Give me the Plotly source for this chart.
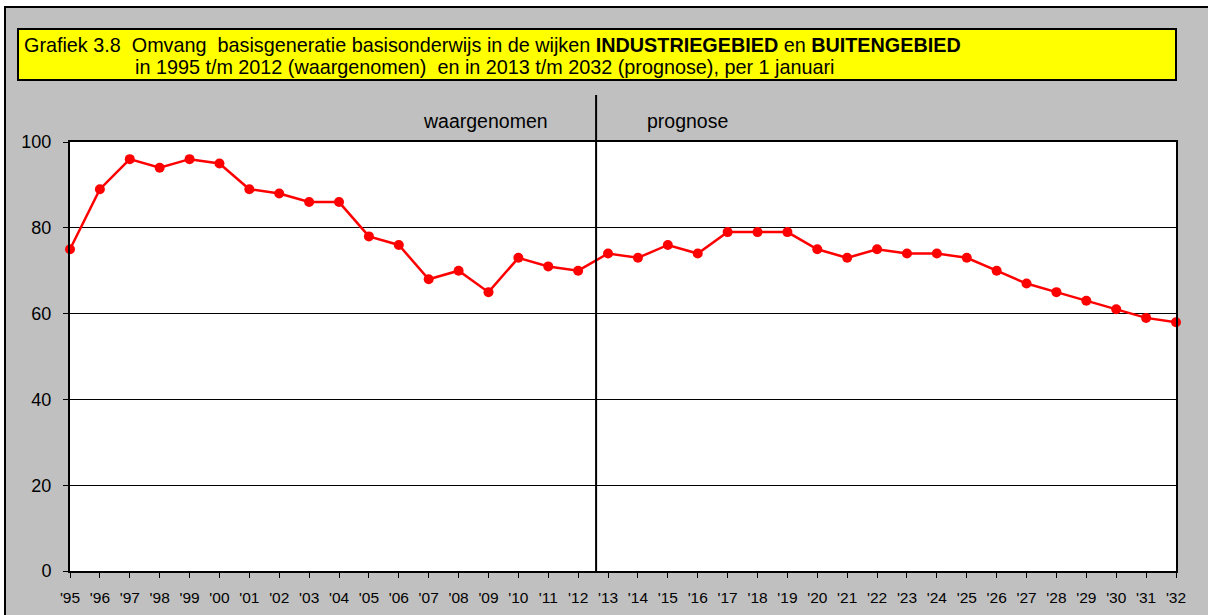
import plotly.graph_objects as go

years = ["'95", "'96", "'97", "'98", "'99", "'00", "'01", "'02", "'03", "'04",
         "'05", "'06", "'07", "'08", "'09", "'10", "'11", "'12",
         "'13", "'14", "'15", "'16", "'17", "'18", "'19", "'20", "'21", "'22",
         "'23", "'24", "'25", "'26", "'27", "'28", "'29", "'30", "'31", "'32"]
values = [75, 89, 96, 94, 96, 95, 89, 88, 86, 86,
          78, 76, 68, 70, 65, 73, 71, 70,
          74, 73, 76, 74, 79, 79, 79, 75, 73, 75,
          74, 74, 73, 70, 67, 65, 63, 61, 59, 58]
y_ticks = [0, 20, 40, 60, 80, 100]
split_label_left = "waargenomen"
split_label_right = "prognose"

FONT = "Arial, Liberation Sans, sans-serif"
W, H = 1208, 615
L, R, T, B = 70, 32, 142, 44
PW, PH = W - L - R, H - T - B

def px(x):
    return (x - L) / PW

def py(y):
    return (H - B - y) / PH

xs = list(range(len(years)))

fig = go.Figure()
fig.add_trace(go.Scatter(
    x=xs, y=values, mode="lines+markers",
    line=dict(color="#FF0000", width=2.5),
    marker=dict(color="#FF0000", size=10),
    showlegend=False, cliponaxis=False, hoverinfo="skip"))

shapes = [
    # outer gray frame
    dict(type="rect", xref="paper", yref="paper", layer="below",
         x0=px(5), x1=px(1220), y0=py(640), y1=py(7),
         fillcolor="#C0C0C0", line=dict(color="black", width=2)),
    # white plot area
    dict(type="rect", xref="paper", yref="paper", layer="below",
         x0=0, x1=1, y0=0, y1=1, fillcolor="white", line=dict(width=0)),
    # title box
    dict(type="rect", xref="paper", yref="paper", layer="above",
         x0=px(18), x1=px(1176), y0=py(80), y1=py(29),
         fillcolor="#FFFF00", line=dict(color="black", width=2)),
    # separator line
    dict(type="line", xref="x", yref="paper", layer="above",
         x0=17.6, x1=17.6, y0=0, y1=py(95),
         line=dict(color="black", width=2)),
]

nb = "\u00a0"
annotations = [
    dict(xref="paper", yref="paper", x=px(22), y=py(45), xanchor="left", yanchor="middle",
         showarrow=False, font=dict(family=FONT, size=19.8, color="black"),
         text="Grafiek 3.8" + nb * 2 + "Omvang" + nb + " basisgeneratie basisonderwijs in de wijken "
              "<b>INDUSTRIEGEBIED</b> en <b>BUITENGEBIED</b>"),
    dict(xref="paper", yref="paper", x=px(133), y=py(67), xanchor="left", yanchor="middle",
         showarrow=False, font=dict(family=FONT, size=19.8, color="black"),
         text="in 1995 t/m 2012 (waargenomen)" + nb + " en in 2013 t/m 2032 (prognose), per 1 januari"),
    dict(xref="paper", yref="paper", x=px(485), y=py(121), xanchor="center", yanchor="middle",
         showarrow=False, font=dict(family=FONT, size=19.5, color="black"),
         text=split_label_left),
    dict(xref="paper", yref="paper", x=px(687), y=py(121), xanchor="center", yanchor="middle",
         showarrow=False, font=dict(family=FONT, size=19.5, color="black"),
         text=split_label_right),
]

fig.update_layout(
    width=W, height=H, autosize=False,
    margin=dict(l=L, r=R, t=T, b=B, pad=0),
    paper_bgcolor="white", plot_bgcolor="rgba(0,0,0,0)",
    shapes=shapes, annotations=annotations,
    xaxis=dict(range=[0, len(years) - 1], tickmode="array", tickvals=xs, ticktext=years,
               showgrid=False, zeroline=False, showline=True, linecolor="black", linewidth=2,
               mirror=True, ticks="outside", ticklen=5, tickcolor="black", tickwidth=1,
               ticklabelstandoff=6, automargin=False,
               tickfont=dict(family=FONT, size=15.5, color="black")),
    yaxis=dict(range=[0, 100], tickmode="array", tickvals=y_ticks,
               showgrid=True, gridcolor="black", gridwidth=1, zeroline=False,
               showline=True, linecolor="black", linewidth=2, mirror=True,
               ticks="outside", ticklen=5, tickcolor="black", tickwidth=1,
               ticklabelstandoff=8, automargin=False,
               tickfont=dict(family=FONT, size=18, color="black")),
)

fig.write_html("out.html", config={"displayModeBar": False},
               post_script="document.body.style.margin='0px';document.body.style.overflow='hidden';")
